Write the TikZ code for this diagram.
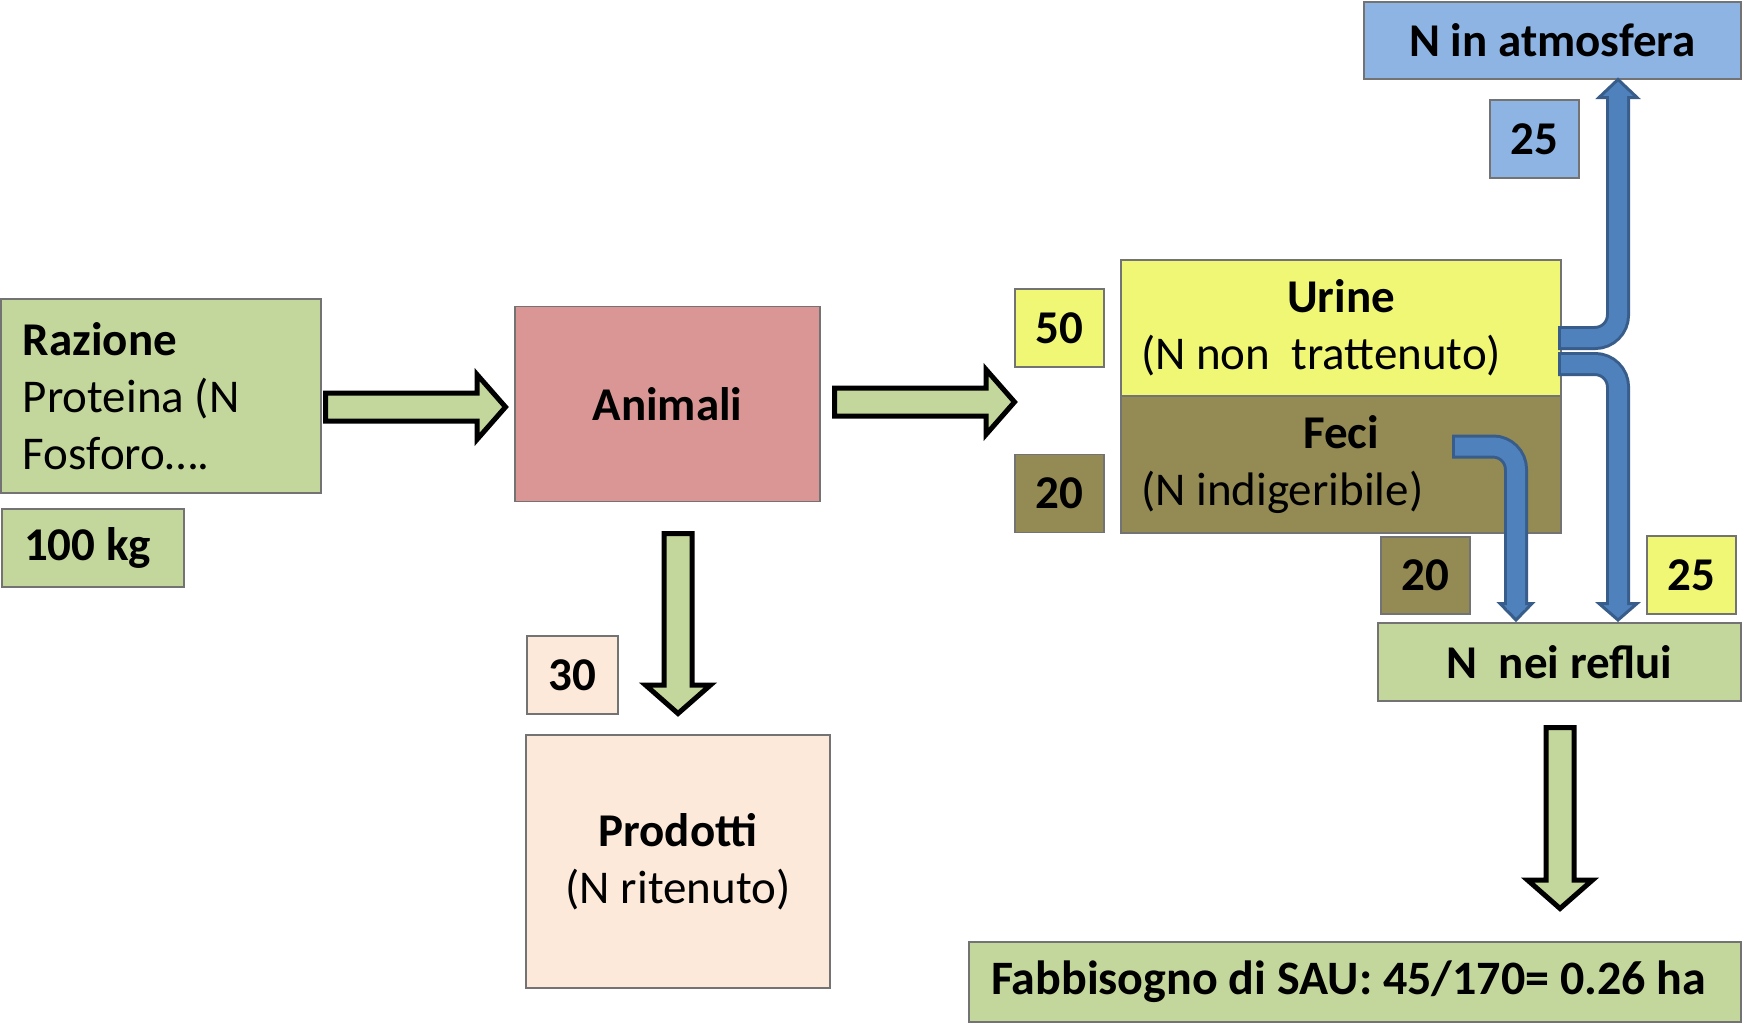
\documentclass[tikz,border=0pt]{standalone}
\usepackage{fontspec}
\setmainfont{Carlito}
\usetikzlibrary{calc}
\definecolor{grn}{HTML}{C3D69B}
\definecolor{rosa}{HTML}{D99694}
\definecolor{pesca}{HTML}{FDE9D9}
\definecolor{giallo}{HTML}{F0F775}
\definecolor{oliva}{HTML}{948A54}
\definecolor{celeste}{HTML}{8EB4E3}
\definecolor{bluA}{HTML}{4F81BD}
\definecolor{bluB}{HTML}{385D8A}
\newcommand{\fsMain}{\fontsize{47}{57}\selectfont}
\newcommand{\fsFab}{\fontsize{48}{57}\selectfont}
\newcommand{\blkR}[2]{\draw[blockarrow] ($(#1)+(0,-14)$) -- ($(#2)+(-28.5,-14)$) -- ($(#2)+(-28.5,-32.5)$) -- (#2) -- ($(#2)+(-28.5,32.5)$) -- ($(#2)+(-28.5,14)$) -- ($(#1)+(0,14)$) -- cycle;}
\newcommand{\blkD}[2]{\draw[blockarrow] ($(#1)+(-14,0)$) -- ($(#2)+(-14,-28.5)$) -- ($(#2)+(-32.5,-28.5)$) -- (#2) -- ($(#2)+(32.5,-28.5)$) -- ($(#2)+(14,-28.5)$) -- ($(#1)+(14,0)$) -- cycle;}
\tikzset{
  box/.style={draw=black!55, line width=1.5pt, inner sep=0pt, outer sep=0pt, text=black},
  numbox/.style={box, minimum width=89pt, minimum height=78pt, font=\fsMain\bfseries},
  blockarrow/.style={fill=grn, draw=black, line width=5pt, line join=miter, miter limit=10},
  bluout/.style={draw=bluB, line width=24pt, rounded corners=23pt},
  bluin/.style={draw=bluA, line width=18pt, rounded corners=23pt},
  bluhead/.style={fill=bluA, draw=bluB, line width=3pt, line join=miter}
}
\begin{document}
\begin{tikzpicture}[x=1pt, y=-1pt]
\useasboundingbox (0,0) rectangle (1742,1023);
\fill[white] (0,0) rectangle (1742,1023);

% boxes
\node[box, fill=grn, minimum width=320pt, minimum height=194pt, font=\fsMain] (razione) at (161,396)
  {\parbox{276pt}{\raggedright\textbf{Razione}\\Proteina (N\\Fosforo….}};
\node[box, fill=grn, minimum width=182pt, minimum height=78pt, font=\fsMain\bfseries] (kg) at (93,548)
  {\parbox{138pt}{100 kg}};
\node[box, fill=rosa, minimum width=305pt, minimum height=195pt, font=\fsMain\bfseries] (animali) at (667.5,404) {Animali};
\node[numbox, fill=pesca, minimum width=91pt] (n30) at (572.5,675) {30};
\node[box, fill=pesca, minimum width=304pt, minimum height=253pt, align=center, font=\fsMain] (prodotti) at (678,861.5)
  {\textbf{Prodotti}\\(N ritenuto)};
\node[numbox, fill=giallo] (n50) at (1059.5,328) {50};
\node[numbox, fill=oliva] (n20a) at (1059.5,493.5) {20};
\node[box, fill=giallo, minimum width=440pt, minimum height=136pt, font=\fsMain] (urine) at (1341,328)
  {\parbox{400pt}{{\centering\bfseries Urine\par}(N non~ trattenuto)}};
\node[box, fill=oliva, minimum width=440pt, minimum height=137pt, font=\fsMain] (feci) at (1341,464.5)
  {\parbox{400pt}{{\centering\bfseries Feci\par}(N indigeribile)}};
\node[box, fill=celeste, minimum width=377pt, minimum height=77pt, font=\fsMain\bfseries] (atm) at (1552.5,40.5) {N in atmosfera};
\node[numbox, fill=celeste] (n25a) at (1534.5,139) {25};
\node[numbox, fill=oliva, minimum height=77pt] (n20b) at (1425.5,575.5) {20};
\node[numbox, fill=giallo] (n25b) at (1691.5,575) {25};
\node[box, fill=grn, minimum width=363pt, minimum height=78pt, font=\fsMain\bfseries] (reflui) at (1559.5,662) {N~ nei reflui};
\node[box, fill=grn, minimum width=772pt, minimum height=80pt, font=\fsFab\bfseries] (fabb) at (1355,982)
  {\parbox{728pt}{Fabbisogno di SAU: 45/170= 0.26 ha}};

% green block arrows
\coordinate (a1s) at (325.5,407);  \coordinate (a1t) at (505.5,407);
\coordinate (a2s) at (834.5,402);  \coordinate (a2t) at (1014.5,402);
\coordinate (a3s) at (678,533.5);  \coordinate (a3t) at (678,713.5);
\coordinate (a4s) at (1560,727.5); \coordinate (a4t) at (1560,908.5);
\blkR{a1s}{a1t}
\blkR{a2s}{a2t}
\blkD{a3s}{a3t}
\blkD{a4s}{a4t}

% blue arrows
\coordinate (u1s) at (1558,338);   \coordinate (u1c) at (1618,338);   \coordinate (u1e) at (1618,97.5);
\coordinate (u2s) at (1558,364);   \coordinate (u2c) at (1618,364);   \coordinate (u2e) at (1618,603.5);
\coordinate (f1s) at (1452,446.5); \coordinate (f1c) at (1516,446.5); \coordinate (f1e) at (1516,603.5);

\draw[bluout] (u1s) -- (u1c) -- (u1e);
\draw[bluhead] ($(u1e)+(-19,0)$) -- ($(u1e)+(0,-18)$) -- ($(u1e)+(19,0)$) -- cycle;
\draw[bluin] ($(u1s)+(3,0)$) -- (u1c) -- ($(u1e)+(0,-6)$);

\draw[bluout] (u2s) -- (u2c) -- (u2e);
\draw[bluhead] ($(u2e)+(-19,0)$) -- ($(u2e)+(0,16.5)$) -- ($(u2e)+(19,0)$) -- cycle;
\draw[bluin] ($(u2s)+(3,0)$) -- (u2c) -- ($(u2e)+(0,6)$);

\draw[bluout] (f1s) -- (f1c) -- (f1e);
\draw[bluhead] ($(f1e)+(-16,0)$) -- ($(f1e)+(0,16.5)$) -- ($(f1e)+(16,0)$) -- cycle;
\draw[bluin] ($(f1s)+(3,0)$) -- (f1c) -- ($(f1e)+(0,6)$);
\end{tikzpicture}
\end{document}
